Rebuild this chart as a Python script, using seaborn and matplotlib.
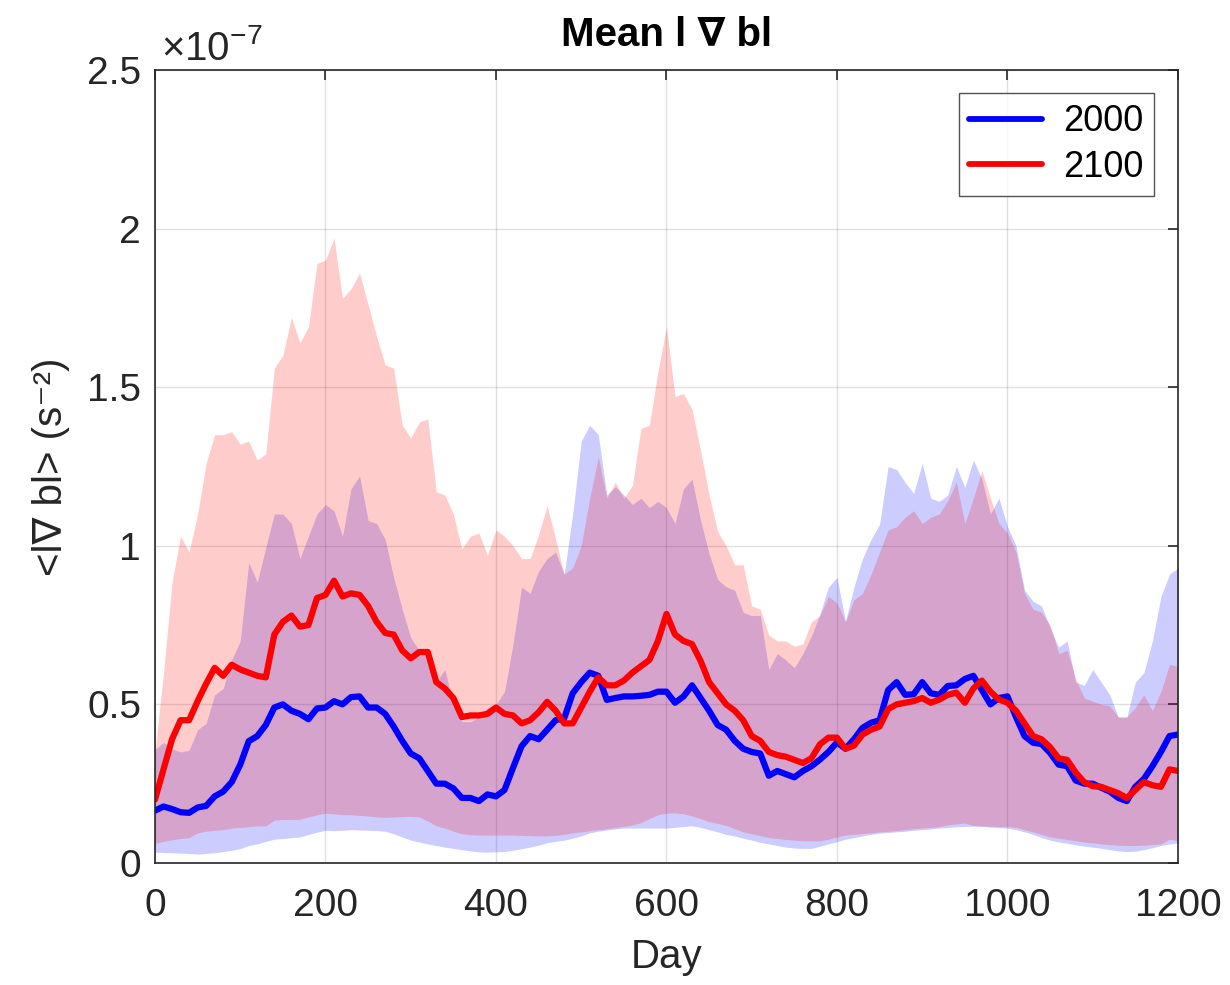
import numpy as np
import pandas as pd
import matplotlib
matplotlib.use("Agg")
import matplotlib.pyplot as plt
import seaborn as sns
from matplotlib.lines import Line2D

days = list(range(0, 1201, 10))

mean_2100 = [0.20, 0.295, 0.39, 0.45, 0.45, 0.51, 0.565, 0.615, 0.59, 0.625,
             0.61, 0.60, 0.59, 0.585, 0.72, 0.76, 0.78, 0.745, 0.75, 0.835,
             0.845, 0.89, 0.84, 0.85, 0.845, 0.81, 0.76, 0.725, 0.72, 0.67,
             0.645, 0.665, 0.665, 0.57, 0.55, 0.52, 0.46, 0.465, 0.465, 0.47,
             0.49, 0.47, 0.465, 0.44, 0.45, 0.475, 0.508, 0.48, 0.44, 0.44,
             0.49, 0.54, 0.585, 0.56, 0.56, 0.575, 0.60, 0.62, 0.64, 0.70,
             0.785, 0.72, 0.70, 0.69, 0.637, 0.57, 0.535, 0.50, 0.48, 0.45,
             0.40, 0.385, 0.35, 0.34, 0.335, 0.325, 0.315, 0.33, 0.374, 0.395,
             0.395, 0.36, 0.37, 0.405, 0.42, 0.43, 0.485, 0.50, 0.505, 0.51,
             0.52, 0.505, 0.515, 0.53, 0.537, 0.505, 0.55, 0.575, 0.54, 0.515,
             0.505, 0.48, 0.44, 0.40, 0.39, 0.365, 0.33, 0.325, 0.285, 0.255,
             0.242, 0.24, 0.23, 0.22, 0.205, 0.23, 0.255, 0.245, 0.24, 0.295,
             0.29]

mean_2000 = [0.165, 0.178, 0.17, 0.16, 0.158, 0.175, 0.18, 0.21, 0.225, 0.255,
             0.31, 0.384, 0.40, 0.435, 0.49, 0.50, 0.48, 0.47, 0.453, 0.487,
             0.49, 0.51, 0.50, 0.523, 0.525, 0.49, 0.49, 0.47, 0.43, 0.385,
             0.345, 0.33, 0.29, 0.25, 0.25, 0.235, 0.205, 0.205, 0.195, 0.216,
             0.21, 0.23, 0.30, 0.368, 0.40, 0.39, 0.42, 0.45, 0.456, 0.535,
             0.57, 0.60, 0.59, 0.514, 0.52, 0.525, 0.525, 0.527, 0.53, 0.54,
             0.54, 0.505, 0.525, 0.56, 0.52, 0.48, 0.435, 0.42, 0.385, 0.36,
             0.35, 0.345, 0.275, 0.29, 0.28, 0.27, 0.29, 0.305, 0.326, 0.35,
             0.38, 0.36, 0.39, 0.426, 0.442, 0.45, 0.545, 0.57, 0.53, 0.532,
             0.57, 0.535, 0.53, 0.558, 0.56, 0.58, 0.59, 0.545, 0.50, 0.52,
             0.525, 0.46, 0.40, 0.379, 0.375, 0.347, 0.31, 0.305, 0.26, 0.25,
             0.25, 0.237, 0.225, 0.205, 0.195, 0.24, 0.265, 0.305, 0.35, 0.40,
             0.405]

upper_2100 = [0.35, 0.60, 0.885, 1.03, 0.98, 1.10, 1.26, 1.35, 1.35, 1.36,
              1.32, 1.33, 1.27, 1.29, 1.56, 1.60, 1.72, 1.64, 1.69, 1.89,
              1.90, 1.97, 1.78, 1.81, 1.86, 1.76, 1.66, 1.57, 1.56, 1.38,
              1.34, 1.39, 1.40, 1.17, 1.16, 1.10, 0.99, 1.03, 1.04, 0.97,
              1.05, 1.03, 1.00, 0.96, 0.96, 1.034, 1.127, 1.02, 0.91, 0.93,
              1.00, 1.15, 1.28, 1.15, 1.20, 1.15, 1.19, 1.37, 1.38, 1.55,
              1.69, 1.47, 1.48, 1.43, 1.30, 1.16, 1.045, 1.00, 0.94, 0.94,
              0.81, 0.80, 0.718, 0.70, 0.70, 0.683, 0.69, 0.76, 0.78, 0.84,
              0.82, 0.76, 0.83, 0.85, 0.91, 0.98, 1.05, 1.06, 1.09, 1.11,
              1.07, 1.09, 1.10, 1.142, 1.20, 1.07, 1.15, 1.237, 1.15, 1.07,
              1.04, 0.98, 0.85, 0.80, 0.79, 0.75, 0.66, 0.67, 0.58, 0.52,
              0.51, 0.50, 0.495, 0.46, 0.46, 0.49, 0.53, 0.48, 0.54, 0.626,
              0.62]

upper_2000 = [0.357, 0.38, 0.36, 0.35, 0.355, 0.42, 0.44, 0.53, 0.55, 0.64,
              0.70, 0.947, 0.885, 0.995, 1.10, 1.10, 1.07, 0.96, 1.03, 1.10,
              1.13, 1.11, 1.03, 1.18, 1.22, 1.08, 1.07, 1.02, 0.90, 0.80,
              0.71, 0.67, 0.65, 0.57, 0.61, 0.50, 0.446, 0.445, 0.46, 0.49,
              0.50, 0.54, 0.69, 0.87, 0.85, 0.92, 0.96, 0.98, 0.91, 1.10,
              1.33, 1.38, 1.35, 1.16, 1.186, 1.16, 1.13, 1.15, 1.12, 1.14,
              1.12, 1.07, 1.18, 1.21, 1.08, 0.975, 0.894, 0.87, 0.86, 0.79,
              0.78, 0.78, 0.61, 0.66, 0.64, 0.615, 0.66, 0.715, 0.785, 0.87,
              0.90, 0.763, 0.87, 0.96, 1.02, 1.068, 1.25, 1.24, 1.20, 1.165,
              1.26, 1.15, 1.14, 1.16, 1.25, 1.184, 1.27, 1.21, 1.10, 1.15,
              1.06, 1.00, 0.86, 0.825, 0.81, 0.742, 0.68, 0.70, 0.57, 0.56,
              0.61, 0.57, 0.53, 0.46, 0.46, 0.57, 0.60, 0.70, 0.84, 0.91,
              0.93]

lower_2100 = [0.062, 0.068, 0.073, 0.077, 0.08, 0.095, 0.10, 0.103, 0.105, 0.11,
              0.112, 0.114, 0.117, 0.117, 0.135, 0.137, 0.137, 0.138, 0.145, 0.152,
              0.157, 0.155, 0.152, 0.152, 0.15, 0.148, 0.145, 0.144, 0.145, 0.146,
              0.147, 0.145, 0.132, 0.117, 0.11, 0.10, 0.092, 0.089, 0.088, 0.088,
              0.088, 0.088, 0.088, 0.087, 0.086, 0.085, 0.085, 0.087, 0.09, 0.095,
              0.098, 0.102, 0.105, 0.108, 0.112, 0.115, 0.12, 0.127, 0.14, 0.152,
              0.157, 0.158, 0.155, 0.148, 0.14, 0.13, 0.125, 0.118, 0.108, 0.098,
              0.092, 0.086, 0.08, 0.077, 0.074, 0.072, 0.07, 0.07, 0.07, 0.075,
              0.082, 0.088, 0.09, 0.093, 0.095, 0.098, 0.10, 0.102, 0.105, 0.108,
              0.11, 0.112, 0.115, 0.12, 0.123, 0.126, 0.118, 0.117, 0.116, 0.115,
              0.115, 0.112, 0.105, 0.098, 0.09, 0.082, 0.078, 0.074, 0.07, 0.066,
              0.063, 0.06, 0.058, 0.056, 0.055, 0.055, 0.056, 0.058, 0.06, 0.075,
              0.07]

lower_2000 = [0.034, 0.033, 0.032, 0.031, 0.03, 0.028, 0.03, 0.032, 0.036, 0.04,
              0.045, 0.055, 0.06, 0.068, 0.075, 0.077, 0.08, 0.082, 0.09, 0.097,
              0.103, 0.102, 0.103, 0.105, 0.104, 0.103, 0.102, 0.10, 0.092, 0.082,
              0.072, 0.066, 0.06, 0.055, 0.05, 0.046, 0.042, 0.038, 0.035, 0.034,
              0.035, 0.036, 0.04, 0.045, 0.05, 0.056, 0.064, 0.068, 0.072, 0.078,
              0.085, 0.095, 0.10, 0.104, 0.107, 0.11, 0.11, 0.11, 0.11, 0.11,
              0.11, 0.112, 0.115, 0.117, 0.112, 0.105, 0.098, 0.09, 0.085, 0.078,
              0.072, 0.065, 0.06, 0.055, 0.05, 0.047, 0.046, 0.046, 0.053, 0.06,
              0.067, 0.075, 0.08, 0.085, 0.09, 0.094, 0.096, 0.098, 0.10, 0.103,
              0.105, 0.107, 0.11, 0.112, 0.114, 0.115, 0.116, 0.115, 0.113, 0.111,
              0.11, 0.105, 0.098, 0.09, 0.08, 0.072, 0.066, 0.062, 0.057, 0.053,
              0.05, 0.046, 0.042, 0.038, 0.036, 0.037, 0.042, 0.048, 0.055, 0.06,
              0.063]

series_names = ["2000", "2100"]
series_colors = ["#0000ff", "#ff0000"]
x_ticks = [0, 200, 400, 600, 800, 1000, 1200]
y_ticks = [0, 0.5, 1, 1.5, 2, 2.5]
y_tick_labels = ["0", "0.5", "1", "1.5", "2", "2.5"]

sns.set_theme(style="white")
plt.rcParams["font.family"] = ["Liberation Sans", "DejaVu Sans"]
plt.rcParams["mathtext.fontset"] = "custom"
plt.rcParams["mathtext.rm"] = "Liberation Sans"
plt.rcParams["mathtext.it"] = "Liberation Sans:italic"
plt.rcParams["mathtext.bf"] = "Liberation Sans:bold"

TXT = "#262626"
fig = plt.figure(figsize=(12.3, 9.85), dpi=100)
ax = fig.add_axes([0.126, 0.1239, 0.8317, 0.8051])

x = np.array(days)
ax.fill_between(x, lower_2000, upper_2000, color=series_colors[0], alpha=0.2, linewidth=0, zorder=1)
ax.fill_between(x, lower_2100, upper_2100, color=series_colors[1], alpha=0.2, linewidth=0, zorder=2)

df = pd.DataFrame({
    "day": days * 2,
    "value": mean_2000 + mean_2100,
    "year": [series_names[0]] * len(days) + [series_names[1]] * len(days),
})
sns.lineplot(data=df, x="day", y="value", hue="year", hue_order=series_names,
             palette=series_colors, estimator=None, linewidth=4.5, ax=ax,
             legend=False, zorder=3)

ax.set_xlim(0, 1200)
ax.set_ylim(0, 2.5)
ax.set_xticks(x_ticks)
ax.set_yticks(y_ticks)
ax.set_yticklabels(y_tick_labels)
ax.tick_params(axis="both", which="both", direction="in", length=7, width=1.2,
               labelsize=28, colors=TXT, top=True, right=True)
ax.tick_params(axis="x", pad=18)
ax.tick_params(axis="y", pad=10)
ax.grid(True, color="#000000", alpha=0.12, linewidth=1.0)
for sp in ax.spines.values():
    sp.set_color(TXT)
    sp.set_linewidth(1.2)
    sp.set_visible(True)
    sp.set_zorder(5)

ax.set_xlabel("Day", fontsize=29, color=TXT, labelpad=10)
ax.set_ylabel("<l\u2207 bl> (s\u207b\u00b2)", fontsize=29, color=TXT, labelpad=12)
ax.set_title("Mean l \u2207 bl", fontsize=29, fontweight="bold", color="black", pad=17)
ax.text(0.006, 1.012, "\u00d710$^{-7}$", transform=ax.transAxes, fontsize=29,
        color=TXT, ha="left", va="baseline")

handles = [Line2D([0], [0], color=c, linewidth=4.2) for c in series_colors]
leg = ax.legend(handles, series_names, loc="upper right", fontsize=26,
                frameon=True, fancybox=False, edgecolor=TXT,
                handlelength=2.0, borderaxespad=0.65, labelspacing=0.3,
                handletextpad=0.6, borderpad=0.3)
leg.get_frame().set_linewidth(1.0)
for t in leg.get_texts():
    t.set_color("black")
leg.set_zorder(10)

fig.savefig("out.png", dpi=100)
